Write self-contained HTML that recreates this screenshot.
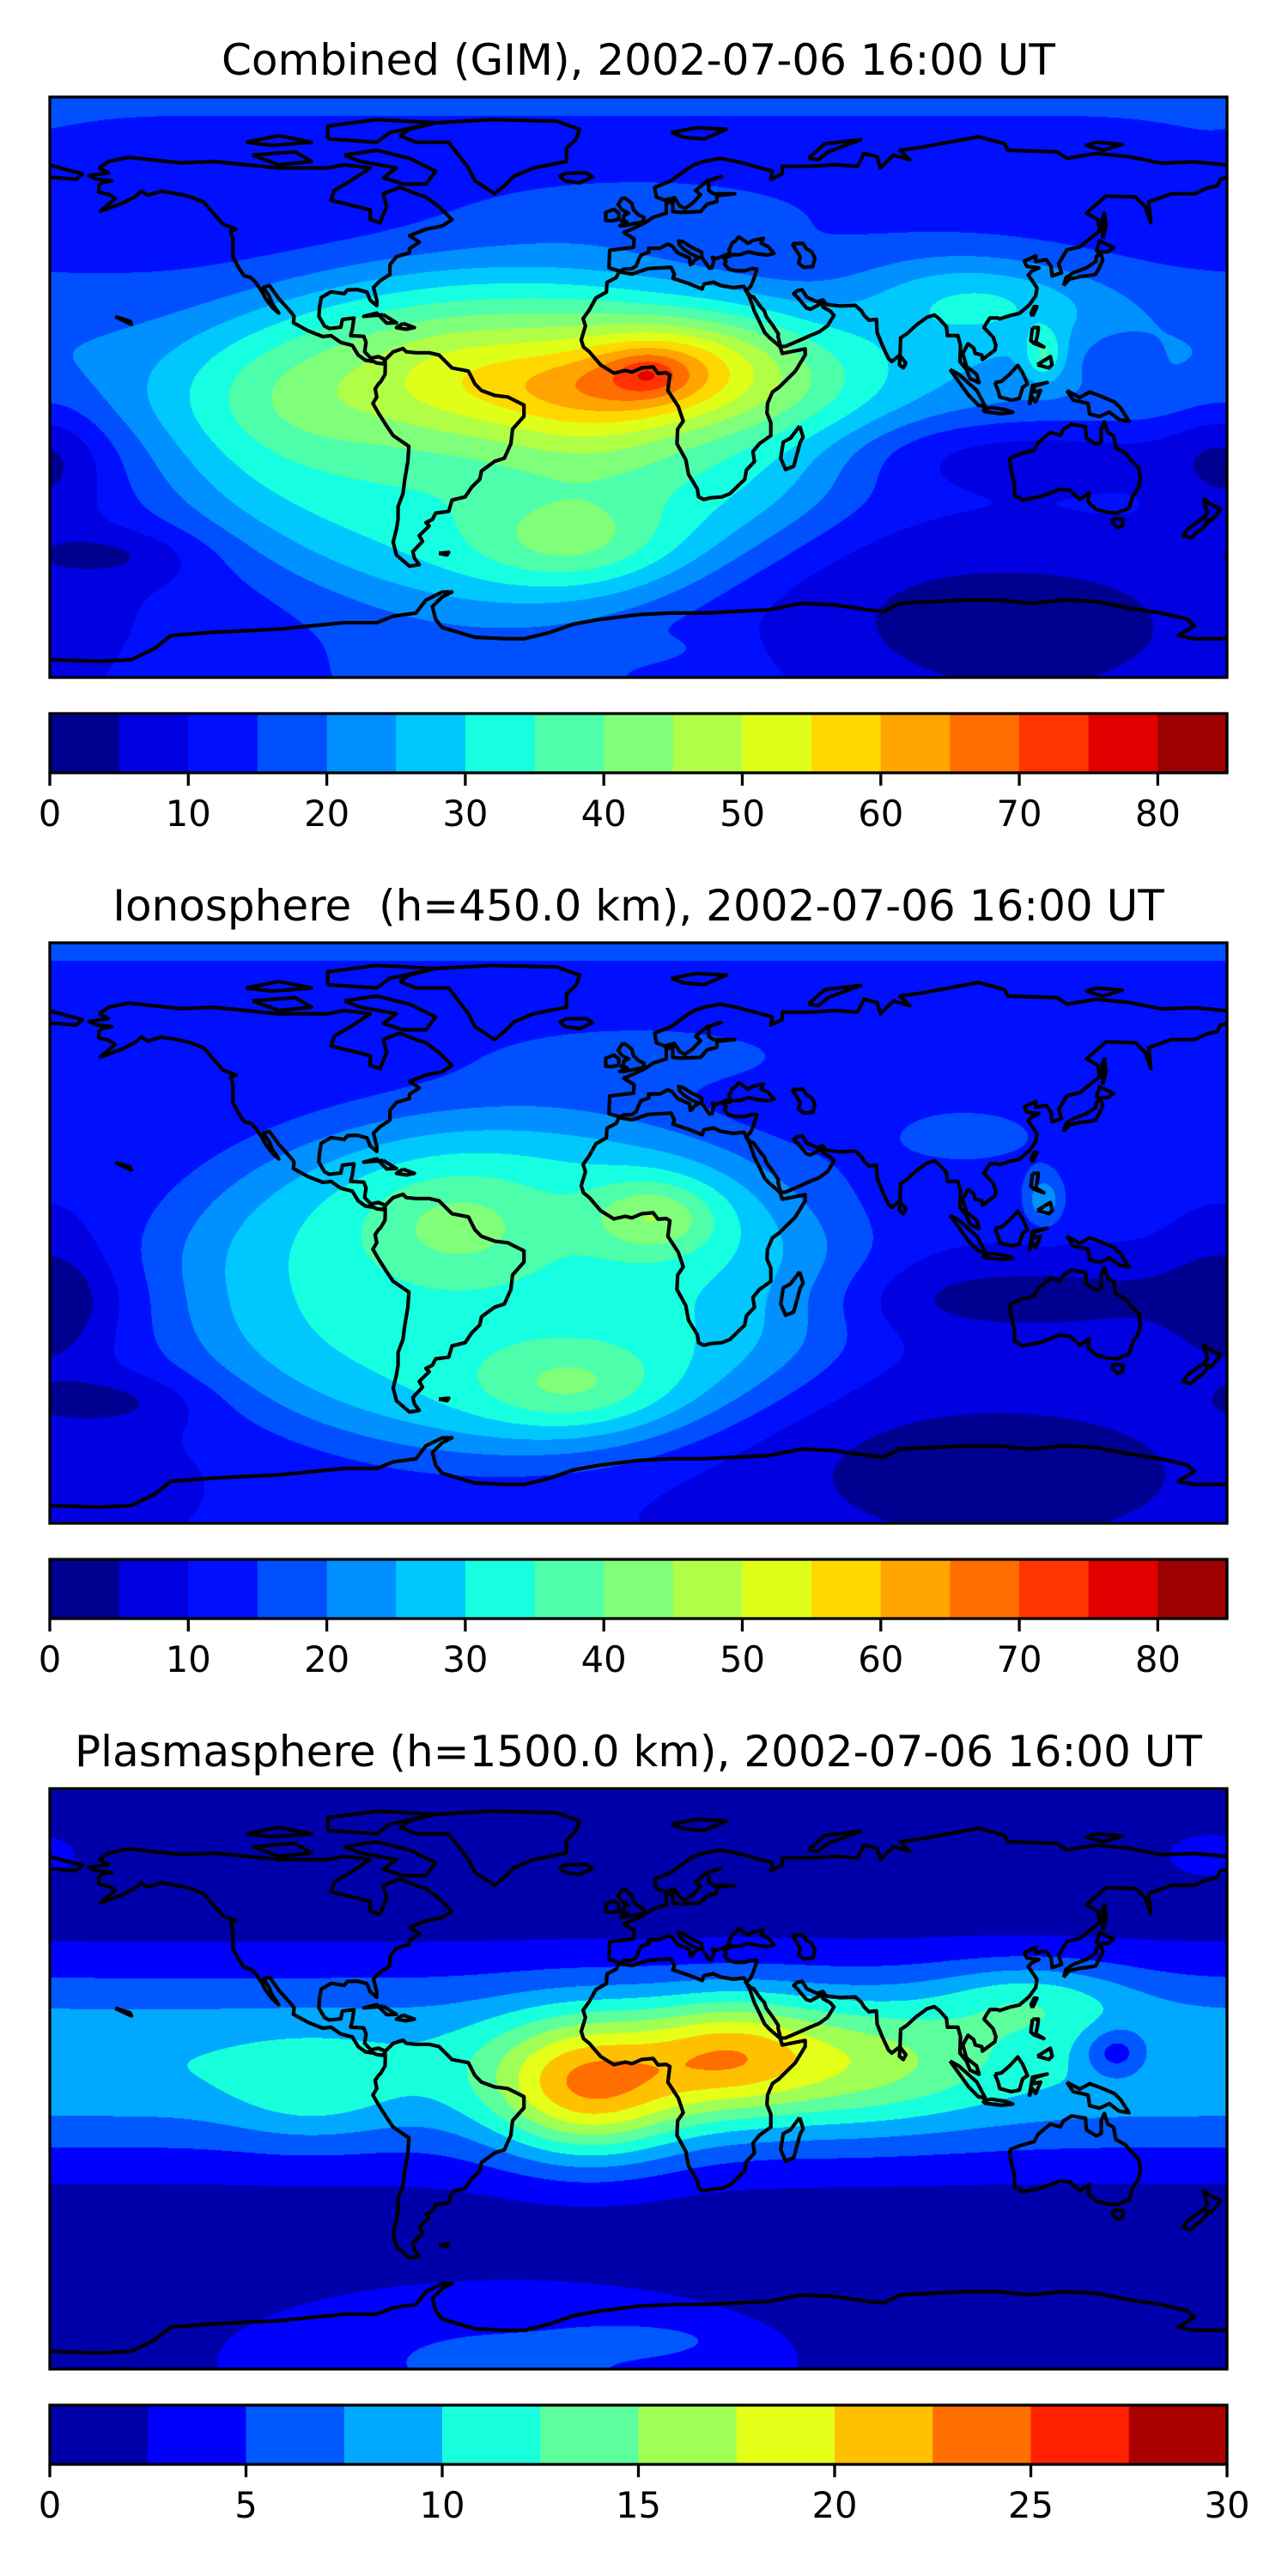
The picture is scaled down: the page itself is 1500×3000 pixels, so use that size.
<!DOCTYPE html>
<html><head><meta charset="utf-8">
<style>
html,body{margin:0;padding:0;background:#fff;}
body{width:1500px;height:3000px;position:relative;overflow:hidden;font-family:"DejaVu Sans","Liberation Sans",sans-serif;}
.title{position:absolute;left:0;width:1487px;text-align:center;font-size:50px;line-height:60px;color:#000;}
.map{position:absolute;left:58px;width:1371px;height:676px;}
.map canvas{position:absolute;left:0;top:0;}
.map svg{position:absolute;left:0;top:0;overflow:visible;}
.cbar{position:absolute;left:0;top:0;}
</style></head>
<body>
<div class="title" style="top:40px">Combined (GIM), 2002-07-06 16:00 UT</div>
<div class="map" id="m1" style="top:113px"></div>
<div class="title" style="top:1025px">Ionosphere &nbsp;(h=450.0 km), 2002-07-06 16:00 UT</div>
<div class="map" id="m2" style="top:1098px"></div>
<div class="title" style="top:2010px">Plasmasphere (h=1500.0 km), 2002-07-06 16:00 UT</div>
<div class="map" id="m3" style="top:2083px"></div>
<svg class="cbar" id="cb" width="1500" height="3000"></svg>
<script>
// ---- colour levels ----
const jetLevels = [0,5,10,15,20,25,30,35,40,45,50,55,60,65,70,75,80,85];
const jetColors = ["#000090","#0000e0","#0010ff","#0050ff","#0090ff","#00c8ff","#16ffe0","#4dffaa","#80ff7a","#b0ff46","#e0ff18","#ffd800","#ffa400","#ff6c00","#ff3400","#e00000","#9c0000"];
const jetTicks = [0,10,20,30,40,50,60,70,80];
const plasLevels = [0,2.5,5,7.5,10,12.5,15,17.5,20,22.5,25,27.5,30];
const plasColors = ["#0000aa","#0000ff","#0058ff","#00a8ff","#18ffdc","#5cff9c","#a0ff54","#e4ff18","#ffc000","#ff6e00","#ff2000","#aa0000"];
const plasTicks = [0,5,10,15,20,25,30];

// ---- field components (lon, lat, amplitude, sigmaLon, sigmaLat, power) ----
const ionoBase = 11;
const ionoLon = [0,-40,5,-55,-20,-180,-160,110,120,124,100,0];
const ionoLat = [55,-15,5,2,-48,-22,-52,-75,-20,10,30,90];
const ionoAmp = [6,21,14,10,11,-8,-6,-9,-8,12,5,5];
const ionoSLon = [60,105,20,30,30,18,25,80,70,6,40,1e6];
const ionoSLat = [12,55,12,18,14,22,8,30,12,8,15,12];
const ionoPow = [2,5,2,2,2,2,2,2,2,2,2,2];

const plasBase = 0;
const plasLon = [0,-15,27,60,-100,146,-40,0,175,120];
const plasLat = [5,-3,8,5,-5,8,-88,-81,70,25];
const plasAmp = [9.8,13.5,7.5,7,3,-6,5.5,3,3,5];
const plasSLon = [1e6,30,25,45,25,10,100,20,25,30];
const plasSLat = [32,22,18,20,15,8,28,4,12,12];
const plasPow = [2,2,2,2,2,2,2,2,2,2];

// combined = ionosphere + plasmasphere + corrections
const combLon = [3,95,-15];
const combLat = [4,28,0];
const combAmp = [5,5,5];
const combSLon = [8,30,30];
const combSLat = [5,15,10];
const combPow = [2,2,2];

const W = 1371, H = 676;
function xOf(lon){ return (lon+180)/360*W; }
function yOf(lat){ return (90-lat)/180*H; }

function field(base, LON, LAT, AMP, SLON, SLAT, POW, lon, lat){
  let v = base;
  for(let i=0;i<LON.length;i++){
    let dl = ((lon-LON[i]+540)%360)-180;
    let dx = dl/SLON[i], dy = (lat-LAT[i])/SLAT[i];
    let r2 = dx*dx+dy*dy;
    let e = POW[i]===2 ? r2 : Math.pow(r2, POW[i]/2);
    if(e<30) v += AMP[i]*Math.exp(-e);
  }
  return v;
}
function iono(lon,lat){ return field(ionoBase,ionoLon,ionoLat,ionoAmp,ionoSLon,ionoSLat,ionoPow,lon,lat); }
function plas(lon,lat){ return field(plasBase,plasLon,plasLat,plasAmp,plasSLon,plasSLat,plasPow,lon,lat); }
function comb(lon,lat){ return iono(lon,lat)+plas(lon,lat)+field(0,combLon,combLat,combAmp,combSLon,combSLat,combPow,lon,lat); }

function hex(c){ return [parseInt(c.slice(1,3),16),parseInt(c.slice(3,5),16),parseInt(c.slice(5,7),16)]; }

function drawField(id, fn, levels, colors){
  const host = document.getElementById(id);
  const cv = document.createElement('canvas');
  
  
  cv.width = W; cv.height = H;
  host.appendChild(cv);
  const ctx = cv.getContext('2d');
  const img = ctx.createImageData(W,H);
  const rgb = colors.map(hex);
  const step = levels[1]-levels[0];
  for(let py=0;py<H;py++){
    const lat = 90-(py+0.5)/H*180;
    for(let px=0;px<W;px++){
      const lon = -180+(px+0.5)/W*360;
      let k = Math.floor((fn(lon,lat)-levels[0])/step);
      if(k<0)k=0; if(k>colors.length-1)k=colors.length-1;
      const c = rgb[k], o=(py*W+px)*4;
      img.data[o]=c[0];img.data[o+1]=c[1];img.data[o+2]=c[2];img.data[o+3]=255;
    }
  }
  ctx.putImageData(img,0,0);
}

// ---- coastlines (lon,lat) ----
const coasts = [
 [[-165,68],[-162,70],[-156,71.3],[-140,69.6],[-130,70],[-120,69],[-110,68],[-95,68],[-90,69],[-82,68],[-85,66],[-88,64],[-93,61],[-94,58],[-90,57],[-82,55],[-82,52],[-79,51],[-77,56],[-78,60],[-73,62],[-68,60],[-65,59],[-61,56],[-57,52],[-60,50],[-65,49],[-70,47],[-67,45],[-70,43],[-70,41.7],[-74,40.5],[-76,38],[-76,35],[-79,33],[-81,31],[-80,27],[-80,25.3],[-82,27],[-83,29.5],[-86,30.3],[-89,30.2],[-90,29],[-94,29.6],[-97,27.8],[-97.5,25],[-97.7,22],[-96,19],[-94.5,18.2],[-91,18.6],[-90.5,21],[-87,21.5],[-87.5,18],[-88,16],[-84,15.8],[-83.3,14],[-83.7,11],[-81.8,9],[-79.5,9.5],[-77.4,8.6],[-78,7.3],[-80,7.5],[-81,8],[-83.5,8.4],[-85.7,10],[-87.5,13],[-91,13.9],[-94,16],[-96.5,15.7],[-101,17.5],[-105.5,20],[-105.3,22],[-106,23],[-108,25.3],[-110,27.5],[-112.8,31.5],[-114.7,31],[-113,28.5],[-112,26],[-110,23],[-112,24.8],[-114,27.5],[-115,29.5],[-117,32.5],[-118.5,34],[-120.6,34.6],[-122.5,37.5],[-124,40.5],[-124,46],[-124.7,48.4],[-123,49],[-127,50.5],[-130,54],[-133,57.5],[-137,59],[-140,59.8],[-146,60.8],[-150,59.5],[-152,60.8],[-154,59],[-158,57],[-162,55.5],[-164.5,54.6],[-160,58.5],[-162,59.8],[-165,60.5],[-165,62.5],[-164,63.5],[-161,64],[-166,64.6],[-168,65.6],[-162,66.5],[-165,68]],
 [[-73,78],[-68,76],[-58,76],[-55,72],[-52,68],[-50,64],[-44,60],[-41,62.5],[-38,65.5],[-32,68],[-22,70],[-22,74],[-19,77],[-18,80],[-25,82.5],[-45,83],[-62,82],[-70,80],[-73,78]],
 [[-90,72],[-80,73.5],[-70,71],[-62,67],[-65,63],[-72,63],[-78,65],[-74,68],[-85,70],[-90,72]],
 [[-118,72],[-105,73],[-100,70],[-110,69],[-118,72]],
 [[-95,77],[-80,76],[-76,79],[-62,82],[-80,83],[-95,81],[-95,77]],
 [[-120,76],[-110,78],[-100,76],[-112,75],[-120,76]],
 [[-77.5,8.5],[-75,11],[-72,12],[-71,11],[-68,10.7],[-64,10.7],[-61,10],[-57,6],[-52,5],[-50,1],[-48,-1],[-44,-2.5],[-40,-3],[-35,-5.5],[-35,-9],[-38.5,-13],[-39,-17.5],[-41,-22],[-44,-23],[-48,-26],[-48.5,-28.5],[-51,-31],[-53,-34],[-57,-35],[-58,-38.5],[-62,-39],[-63,-41],[-65,-42],[-64,-43],[-67,-46],[-66,-47.8],[-69,-51],[-68.5,-53],[-67,-55],[-70,-55.5],[-74,-52],[-75,-48],[-74,-44],[-73.5,-41],[-73.5,-37],[-72,-33],[-71.5,-29],[-70.5,-23],[-70.2,-18.3],[-75,-15],[-77,-12],[-79.5,-8],[-81.2,-5],[-80,-3],[-80.5,-0.5],[-79.5,1],[-78.8,1.7],[-77.5,4],[-77.4,6.7],[-77.5,8.5]],
 [[-5.9,35.8],[-2,35.1],[3,36.8],[10,37.2],[11,35],[10.5,33.8],[15,32.3],[19.5,30.5],[20,32],[23,32.6],[25,31.6],[29,30.9],[32.3,31.3],[34,27.8],[35.5,23.5],[37.2,20],[38.6,17],[40,15.5],[43.3,12.6],[44,10.5],[51,11.9],[51,10],[48,5],[43,0],[41,-1.5],[39.5,-5],[39.3,-8],[40.5,-11],[40.5,-15],[37,-17.5],[35,-20],[35.5,-23],[33,-25.7],[32.5,-28.6],[31,-30],[28,-33],[25.5,-34],[22,-34.3],[20,-34.8],[18.4,-34],[18,-31.5],[15.3,-27],[14.5,-22.5],[11.8,-17.5],[12,-13],[13.7,-10.5],[12.2,-6],[9,-1],[9.6,3.8],[8.5,4.5],[6,4.3],[4.5,6.3],[1,6],[-2,4.7],[-4,5.2],[-7.5,4.4],[-11.5,6.9],[-13.3,9],[-15,11],[-16.8,12.5],[-17.5,14.7],[-16.2,19],[-16.9,21.3],[-15,24],[-13,27.7],[-9.8,29.5],[-9.6,32.5],[-6.8,34],[-5.9,35.8]],
 [[49.3,-12],[50.4,-15.5],[49.5,-17],[47.5,-24.5],[45,-25.5],[43.5,-22],[44.3,-17],[46.5,-15.8],[49.3,-12]],
 [[-5.6,36],[-9,37],[-8.8,42.5],[-1.5,43.4],[-1.3,46],[-4.5,48],[-1,49.5],[2,51],[4.5,52.7],[8.5,54],[8.5,57],[10.5,57.7],[10.5,54.5],[13,54.2],[19,54.5],[21,56.8],[24,57.6],[24,59.4],[29.5,60],[23,60],[21.5,61],[21.5,64],[25.3,65.3],[21,64],[17.5,61],[19,59.7],[16.5,57],[14.2,55.4],[12.7,56.2],[11,58.8],[8,58],[5.5,59],[5,62],[10,64],[14,67],[17,69],[20,70],[25,71],[30,70],[32,69.5],[41,67],[40.5,64.5],[44,66.2],[44,68.5],[53,68.5],[60,69],[67,68.5],[69,72.5],[73,71.5],[74,68],[78,72],[83,70.5],[80,73.5],[87,74.5],[95,76],[104,77.7],[112,75.5],[113,73.5],[128,73],[131,71],[140,72.5],[150,71.5],[160,69.5],[170,69.9],[180,68.9]],
 [[180,65],[178,64.5],[177,62.5],[174,61.8],[170,60],[163,60],[156,57.5],[156.7,51],[155,56],[152,59],[143,59.3],[137,54],[140.5,52],[141,48.5],[138,46],[135,43.5],[131,42.6],[129.5,40],[128.5,38.3],[129.4,35.5],[126.5,34.5],[126.2,37.5],[124.7,39.6],[121.5,39],[121.5,40.8],[118,39.1],[118.8,37.5],[122.5,37],[120.3,36],[119.2,34.8],[120.8,32.5],[121.9,30.8],[121.5,28.3],[119.5,25.5],[116.5,22.9],[113.5,22.2],[110.5,21.2],[109.8,21.5],[107.5,21.5],[106.5,20],[105.7,18.5],[108.5,15.5],[109.3,13],[109,11.5],[105.2,8.6],[105,10],[103,10.5],[102.5,12.2],[100.8,13.5],[99.2,10.5],[100.3,6.5],[103.4,4],[104.2,1.4],[101.4,2.7],[100.3,5.5],[98.3,8],[98.5,13],[97.7,16],[94.5,16],[94.2,18.8],[92,21.2],[90.5,22.4],[88.2,21.7],[86.9,20.7],[85,19.3],[82,16.5],[80.2,15.3],[80,10],[77.5,8],[76.5,8.9],[74.6,13],[73,17],[72.8,21.1],[70.5,20.8],[69,22.3],[68.2,23.7],[66.3,25.4],[61.7,25.2],[57.4,25.7],[56.4,27.1],[54.7,26.5],[51.5,27.9],[50.1,30.2],[48.5,29.9],[47.5,29],[48.8,27.7],[50.2,26],[51.4,24.6],[52.6,24.2],[56.3,26.2],[56.4,24.9],[58.7,23.6],[59.8,22.3],[57.8,19],[55.3,17.2],[52.2,15.9],[49.6,14.7],[45,12.7],[43.5,12.6],[42.7,15.7],[42.8,16.5],[41.2,19],[39.1,21.9],[38.5,23.7],[37.4,24.9],[35.1,28.1],[34.6,28],[32.9,29.8],[34.3,31.2],[35.1,33.1],[35.9,35.4],[36.2,36.7],[34.7,36.8],[32.5,36.1],[29.7,36.1],[27.6,36.7],[26.3,38.2],[26.8,39],[26.2,40],[29,41.1],[31,41.1],[33.5,42],[36.9,41.3],[39.5,41],[41.5,41.5],[39.7,43.6],[37.5,44.7],[38.2,46.2],[35,45.5],[33.5,44.6],[32.5,45.4],[30.7,46.6],[29.6,45.3],[28.8,44.9],[27.7,42.6],[28,41.6],[26.1,40.8],[24.4,40.1],[23.7,39.9],[22.6,40.3],[23,39],[22.5,37],[21.7,36.9],[21.1,37.8],[19.4,40.2],[19.3,41.9],[16.1,43.5],[13.7,45.1],[12.3,45.4],[12.6,44.1],[13.9,42.8],[16,41.4],[18.5,40.2],[17.5,39.6],[17,39.2],[16.5,38.4],[15.9,38],[15.6,40.1],[12,41.7],[10.2,43.9],[8.9,44.4],[6.5,43.1],[3.1,43.1],[3.2,41.9],[0.8,41],[0,39.4],[-0.7,37.6],[-2.1,36.7],[-4.4,36.7],[-5.6,36]],
 [[47,44.5],[50.3,44.6],[51.3,43],[53,42],[54,40],[53.3,37.4],[50.5,37.2],[49,38.5],[49.5,40.5],[47,44.5]],
 [[-180,68.9],[-175,67.5],[-170,66.2],[-172,64.5],[-178,65],[-180,65]],
 [[-5,50],[1.5,51.3],[1.7,52.7],[0,53.5],[-1.5,55],[-2,57],[-4,58.6],[-5,58.6],[-6.2,56.7],[-5,55],[-3,54],[-4.5,53.3],[-4.5,52],[-5.3,51.7],[-3.5,51.3],[-5.7,50.1],[-5,50]],
 [[-6,52.1],[-6,54],[-7.5,55.2],[-10,54.2],[-10,51.7],[-8,51.6],[-6,52.1]],
 [[-22.5,64],[-24,65.5],[-22,66.4],[-16,66.5],[-14,65.2],[-18,63.4],[-22.5,64]],
 [[10,79],[18,80.5],[27,80],[20,77],[14,77.5],[10,79]],
 [[52,71],[57,75.5],[68,76.8],[58,73],[55,70.5],[52,71]],
 [[140,76],[148,75.3],[142,73.5],[137,75],[140,76]],
 [[130,31.5],[131.7,33.5],[135,34.3],[137,34.5],[139.8,35],[140.9,37],[142,39.5],[141.4,41.4],[140,40.5],[139.9,39],[137,37],[133,35.5],[130.8,34],[130,31.5]],
 [[140,42],[141,45.4],[145.3,43.3],[143.5,42],[140,42]],
 [[142,46],[143,50],[142.5,54],[141.8,52],[142,46]],
 [[120.5,18.5],[122.3,18.5],[122,16],[121.5,14],[124,12.5],[121,13.6],[120,14.5],[120.5,18.5]],
 [[122,7],[126,9.5],[126.5,7],[125.5,6],[122,7]],
 [[120.5,22],[121.9,25],[121,25],[120.1,23],[120.5,22]],
 [[80,9.8],[81.8,7.5],[81,6],[79.8,7],[80,9.8]],
 [[109,1.5],[110,-1],[110.5,-3],[114,-4],[116.5,-3.5],[117.5,0],[119,1],[117.5,4.5],[116,6.8],[113.5,4],[111,1.8],[109,1.5]],
 [[95.3,5.5],[98,4],[103.5,-1],[106,-5.8],[104,-5.6],[101,-2.5],[98.5,1],[95.3,5.5]],
 [[105.2,-6.8],[108,-6.3],[112,-6.9],[114.5,-7.8],[111,-8.2],[106,-7.6],[105.2,-6.8]],
 [[119.5,-5.5],[120.5,0.5],[125,1.5],[121,0.3],[121,-1.5],[123,-1],[121.5,-4.5],[120.5,-3],[119.5,-5.5]],
 [[131,-1],[135,-3.2],[138,-1.5],[141,-2.6],[145.5,-4.5],[147.5,-6.5],[150,-10.5],[147,-10],[144,-7.7],[141,-9.1],[138,-8.3],[137.5,-5],[133,-4],[132,-2.5],[131,-1]],
 [[113.5,-22],[114,-26],[115,-30],[115,-33.5],[117.5,-35],[123,-33.9],[129,-31.6],[132,-32],[135,-34.8],[137.8,-32.8],[137.5,-35.5],[140,-37.9],[143.5,-38.8],[146.3,-39],[150,-37.5],[151.2,-33.8],[153,-31],[153.5,-28],[153,-25],[150.5,-22.5],[149,-20.5],[146,-18.8],[145.3,-15],[143.5,-14],[142.5,-10.7],[141.5,-13],[141.5,-17],[140,-17.7],[137,-15.8],[136.7,-12.2],[132.5,-11.5],[130,-13],[129,-14.9],[126,-14],[122.2,-17.2],[121,-19.5],[117,-20.6],[113.5,-22]],
 [[145,-40.8],[148.3,-40.9],[148,-43],[146.5,-43.6],[145,-42],[145,-40.8]],
 [[172.7,-34.4],[174.5,-36],[178,-37.7],[176.8,-39.5],[175,-41.5],[173,-40.5],[174,-39],[172.7,-34.4]],
 [[172.7,-40.5],[174.2,-41.7],[172.5,-43.8],[171,-44.8],[169,-46.7],[166.5,-46],[168,-44],[172.7,-40.5]],
 [[-180,-84.5],[-165,-85],[-155,-84.5],[-148,-81],[-143,-77],[-130,-76],[-120,-75.5],[-110,-75],[-100,-74],[-90,-73],[-80,-73],[-75,-71],[-68,-70],[-65,-66],[-60,-63.5],[-57,-63.5],[-60,-65],[-63,-68],[-62,-72],[-60,-74.5],[-50,-77.5],[-40,-78],[-35,-78],[-27,-76],[-20,-73.5],[-12,-72],[0,-70.5],[10,-70],[20,-70],[30,-69.5],[40,-69],[50,-67],[60,-67.5],[70,-69],[75,-69.5],[80,-67],[90,-66.5],[100,-66],[110,-66],[120,-67],[130,-66],[140,-66.5],[150,-68.5],[160,-70],[168,-72],[170,-74],[165,-77],[170,-78],[180,-78]],
 [[-61,-51.5],[-58,-51.2],[-58.5,-52],[-61,-51.5]],
 [[-160,21.9],[-155,19.5],[-155.5,20.5],[-160,21.9]],
 [[-78,22.5],[-74,20],[-77,19.9],[-80,23],[-84,22],[-78,22.5]],
 [[-72,19.8],[-68.5,18.5],[-71,18],[-74,18.5],[-72,19.8]]
];

function drawCoasts(id){
  const host = document.getElementById(id);
  const ns='http://www.w3.org/2000/svg';
  const svg=document.createElementNS(ns,'svg');
  
  
  svg.setAttribute('width',W); svg.setAttribute('height',H);
  coasts.forEach(function(c){
    const p=document.createElementNS(ns,'polyline');
    
    
    p.setAttribute('points',c.map(function(q){return xOf(q[0]).toFixed(1)+','+yOf(q[1]).toFixed(1);}).join(' '));
    p.setAttribute('fill','none');p.setAttribute('stroke','#000');
    p.setAttribute('stroke-width','4.2');p.setAttribute('stroke-linejoin','round');
    svg.appendChild(p);
  });
  const r=document.createElementNS(ns,'rect');
  
  
  r.setAttribute('x',0);r.setAttribute('y',0);r.setAttribute('width',W);r.setAttribute('height',H);
  r.setAttribute('fill','none');r.setAttribute('stroke','#000');r.setAttribute('stroke-width','3.3');
  svg.appendChild(r);
  host.appendChild(svg);
}

function drawBar(top, levels, colors, ticks){
  const ns='http://www.w3.org/2000/svg';
  const svg=document.getElementById('cb');
  const x0=58, bw=1371, bh=69;
  const lo=levels[0], hi=levels[levels.length-1];
  const sx=function(v){return x0+(v-lo)/(hi-lo)*bw;};
  const g=document.createElementNS(ns,'g');
  
  
  for(let i=0;i<colors.length;i++){
    const r=document.createElementNS(ns,'rect');
    
    
    r.setAttribute('x',sx(levels[i]));r.setAttribute('y',top);
    r.setAttribute('width',sx(levels[i+1])-sx(levels[i])+0.5);r.setAttribute('height',bh);
    r.setAttribute('fill',colors[i]);
    g.appendChild(r);
  }
  const f=document.createElementNS(ns,'rect');
  
  
  f.setAttribute('x',x0);f.setAttribute('y',top);f.setAttribute('width',bw);f.setAttribute('height',bh);
  f.setAttribute('fill','none');f.setAttribute('stroke','#000');f.setAttribute('stroke-width','3.3');
  g.appendChild(f);
  ticks.forEach(function(t){
    const l=document.createElementNS(ns,'line');
    
    
    l.setAttribute('x1',sx(t));l.setAttribute('x2',sx(t));
    l.setAttribute('y1',top+bh);l.setAttribute('y2',top+bh+15);
    l.setAttribute('stroke','#000');l.setAttribute('stroke-width','3.3');
    g.appendChild(l);
    const tx=document.createElementNS(ns,'text');
    
    
    tx.setAttribute('x',sx(t));tx.setAttribute('y',top+bh+62);
    tx.setAttribute('text-anchor','middle');tx.setAttribute('font-size','41.7');
    tx.setAttribute('font-family','DejaVu Sans, Liberation Sans, sans-serif');
    tx.textContent=String(t);
    g.appendChild(tx);
  });
  svg.appendChild(g);
}

drawField('m1', comb, jetLevels, jetColors);
drawField('m2', iono, jetLevels, jetColors);
drawField('m3', plas, plasLevels, plasColors);
drawCoasts('m1'); drawCoasts('m2'); drawCoasts('m3');
drawBar(831, jetLevels, jetColors, jetTicks);
drawBar(1816, jetLevels, jetColors, jetTicks);
drawBar(2801, plasLevels, plasColors, plasTicks);
</script>
</body></html>
